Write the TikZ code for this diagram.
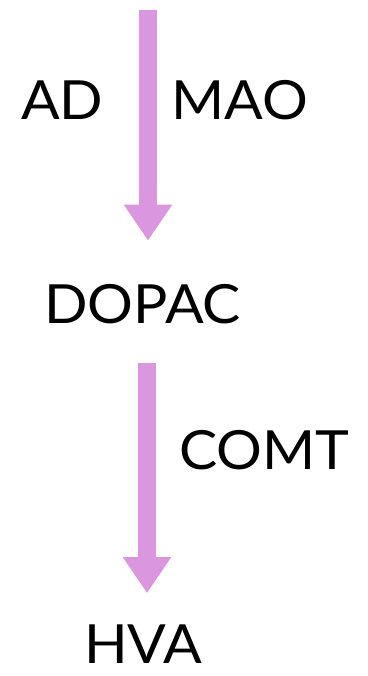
\documentclass[tikz,border=0pt]{standalone}
\usepackage{fontspec}
\setmainfont{Lato}[FakeStretch=1.06]
\usetikzlibrary{arrows.meta}
\definecolor{enzpink}{RGB}{218,150,222}
\begin{document}
\begin{tikzpicture}[x=1pt, y=1pt]

% Define styles
\tikzstyle{chem} = [anchor=base west, inner sep=0pt, font=\fontsize{54}{54}\selectfont]
\tikzstyle{flow} = [line width=18pt, draw=enzpink, -{Triangle[width=46pt, length=36pt]}]

\useasboundingbox (0,0) rectangle (367,-676);

% Compounds
\node[chem] (dopac) at (44,-323) {DOPAC};
\node[chem] (hva) at (84,-663) {HVA};

% Enzymes
\node[chem] (ad) at (21,-120) {AD};
\node[chem] (mao) at (171,-120) {MAO};
\node[chem] (comt) at (179,-469) {COMT};

% Arrows
\coordinate (start1) at (148,-10);
\coordinate (start2) at (147,-363);
\draw[flow, shorten >=43pt] (start1) -- (start1 |- dopac.north);
\draw[flow, shorten >=31pt] (start2) -- (start2 |- hva.north);

\end{tikzpicture}
\end{document}
